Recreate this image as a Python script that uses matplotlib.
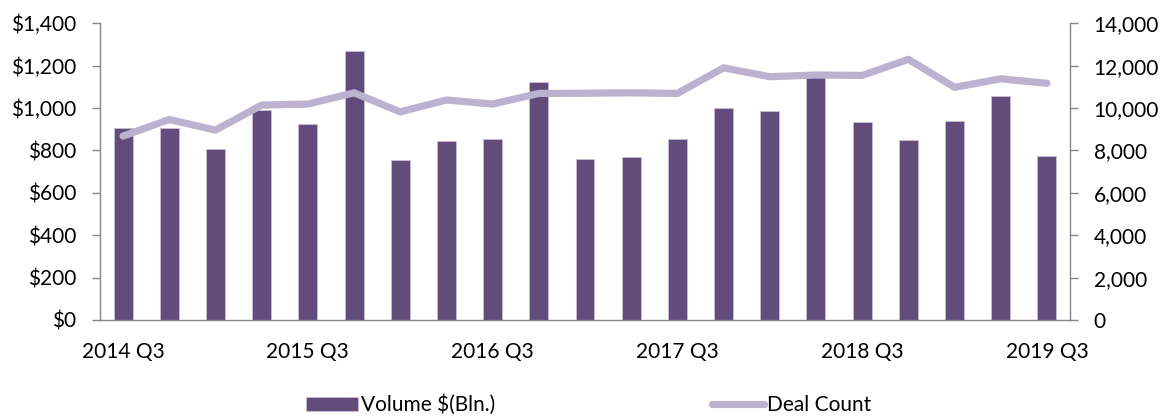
import matplotlib
matplotlib.use("Agg")
import matplotlib.pyplot as plt
import numpy as np

quarters = ["2014 Q3", "2014 Q4", "2015 Q1", "2015 Q2", "2015 Q3", "2015 Q4", "2016 Q1",
            "2016 Q2", "2016 Q3", "2016 Q4", "2017 Q1", "2017 Q2", "2017 Q3", "2017 Q4",
            "2018 Q1", "2018 Q2", "2018 Q3", "2018 Q4", "2019 Q1", "2019 Q2", "2019 Q3"]
volume = [907, 905, 808, 990, 923, 1269, 757, 845, 853, 1121, 760, 770, 853, 1000,
          986, 1171, 932, 850, 939, 1057, 772]
deal_count = [8680, 9460, 8960, 10140, 10190, 10720, 9820, 10380, 10190, 10690, 10700,
              10720, 10690, 11900, 11480, 11560, 11540, 12300, 10980, 11380, 11170]
left_ticks = [0, 200, 400, 600, 800, 1000, 1200, 1400]
right_ticks = [0, 2000, 4000, 6000, 8000, 10000, 12000, 14000]

plt.rcParams['font.family'] = ['Lato', 'DejaVu Sans']
FS = 15

bar_color = "#614C7C"
line_color = "#BBB2CF"
spine_color = "#868686"

fig = plt.figure(figsize=(11.62, 4.18), dpi=100)
ax = fig.add_axes([100/1162, 98/418, 970/1162, (320-23.3)/418])
x = np.arange(len(quarters))
bars = ax.bar(x, volume, width=0.41, color=bar_color, edgecolor="#C9C0D8", linewidth=0.6,
              label="Volume $(Bln.)", zorder=2)
ax.set_xlim(-0.5, len(quarters) - 0.5)
ax.set_ylim(0, 1400)
ax.set_yticks(left_ticks)
ax.set_yticklabels([f"${v:,}" for v in left_ticks])
ax.set_xticks(x[::4])
ax.set_xticklabels(quarters[::4])

ax2 = ax.twinx()
ax2.set_ylim(0, 14000)
ax2.set_yticks(right_ticks)
ax2.set_yticklabels([f"{v:,}" for v in right_ticks])
line, = ax2.plot(x, deal_count, color=line_color, lw=5.2, solid_capstyle="round",
                 solid_joinstyle="round", label="Deal Count", zorder=3)

for a in (ax, ax2):
    a.spines['top'].set_visible(False)
    for s in ('left', 'right', 'bottom'):
        a.spines[s].set_color(spine_color)
        a.spines[s].set_linewidth(1.0)
ax.spines['right'].set_visible(False)
ax2.spines['left'].set_visible(False)
ax2.spines['bottom'].set_visible(False)

ax.tick_params(axis='y', length=6, width=1, color=spine_color, pad=11, labelsize=FS, labelcolor="#000000")
ax2.tick_params(axis='y', length=6, width=1, color=spine_color, pad=11, labelsize=FS, labelcolor="#000000")
ax.tick_params(axis='x', length=0, pad=16, labelsize=FS, labelcolor="#000000")

leg = fig.legend(handles=[bars, line], labels=["Volume $(Bln.)", "Deal Count"],
                 loc="center left", bbox_to_anchor=(306/1162, 1 - 405/418), ncol=2,
                 frameon=False, fontsize=FS, handlelength=2.5, handletextpad=0.15,
                 columnspacing=10.4, borderaxespad=0, borderpad=0)

fig.savefig("out.png", dpi=100)
